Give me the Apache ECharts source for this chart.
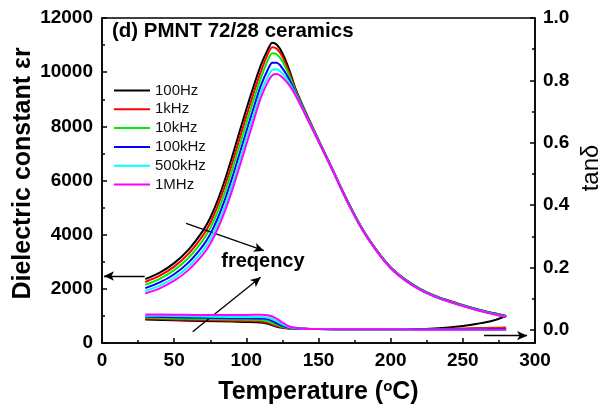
<!DOCTYPE html>
<html>
<head>
<meta charset="utf-8">
<script src="https://cdn.jsdelivr.net/npm/echarts@6/dist/echarts.min.js"></script>
<style>
html,body{margin:0;padding:0;background:#fff;}
#chart{width:611px;height:412px;}
</style>
</head>
<body>
<div id="chart"></div>
<script>
// ---- data ----
const seriesNames = ['100Hz','1kHz','10kHz','100kHz','500kHz','1MHz'];
const seriesColors = ['#000000','#ff0000','#00ee00','#0000ff','#00ffff','#ff00ff'];

const tempsEps = [30,40,50,60,70,75,80,85,90,95,100,105,110,115,118,121,125,130,134,140,150,160,170,180,190,200,210,220,230,240,250,260,270,280];
const eps100Hz = [2360,2600,2950,3450,4150,4625,5250,6000,6850,7750,8630,9470,10250,10850,11090,11020,10700,10050,9400,8650,7500,6380,5250,4250,3450,2800,2350,2010,1760,1570,1400,1250,1120,1000];
const eps1kHz  = [2254,2484,2820,3300,3974,4433,5040,5770,6602,7492,8370,9216,10010,10682,10922,10867,10574,9940,9350,8624,7488,6372,5242,4242,3442,2792,2342,2002,1752,1562,1392,1242,1112,992];
const eps10kHz = [2148,2368,2690,3150,3798,4241,4830,5540,6354,7234,8110,8962,9770,10454,10694,10660,10403,9830,9300,8598,7476,6364,5234,4234,3434,2784,2334,1994,1744,1554,1384,1234,1104,984];
const eps100kHz= [2026,2235,2540,2977,3596,4020,4588,5275,6069,6937,7811,8670,9494,10106,10346,10344,10142,9703,9242,8568,7462,6355,5225,4225,3425,2775,2325,1985,1735,1545,1375,1225,1095,975];
const eps500kHz= [1920,2119,2410,2827,3420,3828,4378,5045,5821,6679,7551,8416,9254,9842,10082,10104,9944,9593,9192,8542,7450,6347,5217,4217,3417,2767,2317,1977,1727,1537,1367,1217,1087,967];
const eps1MHz  = [1830,2020,2300,2700,3270,3665,4200,4850,5610,6460,7330,8200,9050,9650,9890,9930,9800,9500,9150,8520,7440,6340,5210,4210,3410,2760,2310,1970,1720,1530,1360,1210,1080,960];

const tempsTan = [30,50,70,90,100,110,115,120,125,130,140,150,175,200,220,230,240,250,260,270,280];
const tan100Hz = [0.034,0.031,0.029,0.027,0.026,0.024,0.020,0.012,0.007,0.005,0.004,0.003,0.002,0.002,0.003,0.005,0.008,0.013,0.020,0.029,0.045];
const tan1kHz  = [0.037,0.034,0.032,0.030,0.029,0.027,0.023,0.014,0.008,0.005,0.004,0.003,0.002,0.002,0.002,0.003,0.004,0.005,0.006,0.007,0.008];
const tan10kHz = [0.040,0.037,0.035,0.034,0.033,0.032,0.028,0.018,0.010,0.006,0.004,0.003,0.002,0.002,0.002,0.002,0.003,0.003,0.004,0.004,0.004];
const tan100kHz= [0.043,0.041,0.039,0.038,0.038,0.037,0.034,0.024,0.013,0.007,0.004,0.003,0.002,0.002,0.002,0.002,0.002,0.002,0.002,0.002,0.002];
const tan500kHz= [0.046,0.045,0.043,0.042,0.042,0.042,0.040,0.031,0.018,0.009,0.004,0.003,0.002,0.002,0.001,0.001,0.001,0.001,0.001,0.000,0.000];
const tan1MHz  = [0.050,0.049,0.048,0.048,0.048,0.049,0.047,0.039,0.024,0.011,0.004,0.003,0.002,0.002,0.001,0.001,0.001,0.001,0.001,0.001,0.001];

const xTicks = [0,50,100,150,200,250,300];
const rightMajor = [0,0.2,0.4,0.6,0.8,1.0];
const rightMinor = [0.1,0.3,0.5,0.7,0.9];

// annotation arrows in data coordinates (temperature, εr)
const arrowLeft  = [[29.6,2474],[1.4,2474]];
const arrowEps   = [[58.3,4420],[112.2,3408]];
const arrowTan   = [[62.8,417],[109.9,2426]];
const arrowRight = [[264.7,270],[294.5,270]];
const freqLabelPos = [111.5,3002];

const epsSets = [eps100Hz,eps1kHz,eps10kHz,eps100kHz,eps500kHz,eps1MHz];
const tanSets = [tan100Hz,tan1kHz,tan10kHz,tan100kHz,tan500kHz,tan1MHz];

const FONT = '"Liberation Sans", Arial, sans-serif';

const series = [];
epsSets.forEach((arr,i)=>{
  series.push({
    name: seriesNames[i], type:'line', yAxisIndex:0, xAxisIndex:0,
    data: tempsEps.map((t,k)=>[t,arr[k]]),
    symbol:'none', smooth:0.3,
    lineStyle:{color:seriesColors[i], width:2},
    itemStyle:{color:seriesColors[i]},
    z: 2+i
  });
});
tanSets.forEach((arr,i)=>{
  series.push({
    name: seriesNames[i], type:'line', yAxisIndex:1, xAxisIndex:0,
    data: tempsTan.map((t,k)=>[t,arr[k]]),
    symbol:'none', smooth:0.3,
    lineStyle:{color:seriesColors[i], width:2},
    itemStyle:{color:seriesColors[i]},
    z: 2+i
  });
});
// annotation series
const mk = a => [{coord:a[0]},{coord:a[1]}];
series.push({
  type:'line', yAxisIndex:0, data:[], silent:true,
  markLine:{
    silent:true, symbol:['none','arrow'], symbolSize:[7,10],
    lineStyle:{color:'#000', width:1.3, type:'solid'},
    label:{show:false},
    data:[mk(arrowLeft),mk(arrowEps),mk(arrowTan),mk(arrowRight)],
    animation:false
  },
  markPoint:{
    silent:true, symbol:'circle', symbolSize:1, itemStyle:{color:'rgba(0,0,0,0)'},
    label:{show:true, formatter:'freqency', color:'#000', fontWeight:'bold', fontSize:20, fontFamily:FONT},
    data:[{coord:freqLabelPos}]
  }
});

const LEG_ICON = 'path://M0 0H36V2H0Z';

const chart = echarts.init(document.getElementById('chart'), null, {renderer:'canvas'});
chart.setOption({
  animation:false,
  backgroundColor:'#fff',
  title:{
    text:'(d) PMNT 72/28 ceramics', left:112, top:21, padding:0,
    textStyle:{fontSize:20.5, fontWeight:'bold', color:'#000', fontFamily:FONT}
  },
  legend:{
    data:seriesNames.map(n=>({name:n, icon:LEG_ICON})), orient:'vertical', left:114, top:83, padding:0,
    itemWidth:36, itemHeight:14, itemGap:3.8, symbolKeepAspect:true,
    textStyle:{fontSize:15, lineHeight:14, color:'#111', fontFamily:FONT}
  },
  grid:{left:102, right:73, top:18, bottom:69, show:true, borderColor:'#000', borderWidth:1.5, backgroundColor:'transparent'},
  xAxis:[{
    type:'value', min:0, max:300, interval:50,
    name:'Temperature ({sup|o}C)', nameLocation:'middle', nameGap:36, nameMoveOverlap:false,
    nameTextStyle:{fontSize:25, fontWeight:'bold', color:'#000', fontFamily:FONT,
      rich:{sup:{fontSize:15, fontWeight:'bold', color:'#000', fontFamily:FONT, padding:[0,0,12,0]}}},
    axisLine:{lineStyle:{color:'#000', width:1.5}},
    axisTick:{inside:true, length:5, lineStyle:{color:'#000', width:1.5}},
    minorTick:{show:true, splitNumber:2, length:3, lineStyle:{color:'#000', width:1.5}},
    axisLabel:{fontSize:19, fontWeight:'bold', color:'#000', fontFamily:FONT, margin:8,
      customValues: xTicks},
    splitLine:{show:false}
  }],
  yAxis:[{
    type:'value', min:0, max:12000, interval:2000, position:'left',
    name:'Dielectric constant εr', nameLocation:'middle', nameGap:66, nameMoveOverlap:false,
    nameTextStyle:{fontSize:25, fontWeight:'bold', color:'#000', fontFamily:FONT, padding:[0,0,0,14]},
    axisLine:{show:true, lineStyle:{color:'#000', width:1.5}},
    axisTick:{inside:true, length:5, lineStyle:{color:'#000', width:1.5}},
    minorTick:{show:true, splitNumber:2, length:3, lineStyle:{color:'#000', width:1.5}},
    axisLabel:{fontSize:19, fontWeight:'bold', color:'#000', fontFamily:FONT, margin:9, formatter:v=>String(v)},
    splitLine:{show:false}
  },{
    type:'value', min:-0.0417, max:1.0, position:'right',
    name:'tanδ', nameLocation:'middle', nameGap:44, nameMoveOverlap:false,
    nameTextStyle:{fontSize:24, color:'#000', fontFamily:FONT, padding:[0,0,0,25]},
    axisLine:{show:true, lineStyle:{color:'#000', width:1.5}},
    axisTick:{inside:true, length:5, lineStyle:{color:'#000', width:1.5}, customValues:rightMajor},
    axisLabel:{fontSize:19, fontWeight:'bold', color:'#000', fontFamily:FONT, margin:8,
      customValues:rightMajor, formatter:v=>v.toFixed(1)},
    splitLine:{show:false}
  },{
    type:'value', min:-0.0417, max:1.0, position:'right',
    axisLine:{show:false},
    axisTick:{inside:true, length:3, lineStyle:{color:'#000', width:1.5}, customValues:rightMinor},
    axisLabel:{show:false, customValues:rightMinor},
    splitLine:{show:false}
  }],
  series: series
});
</script>
</body>
</html>
